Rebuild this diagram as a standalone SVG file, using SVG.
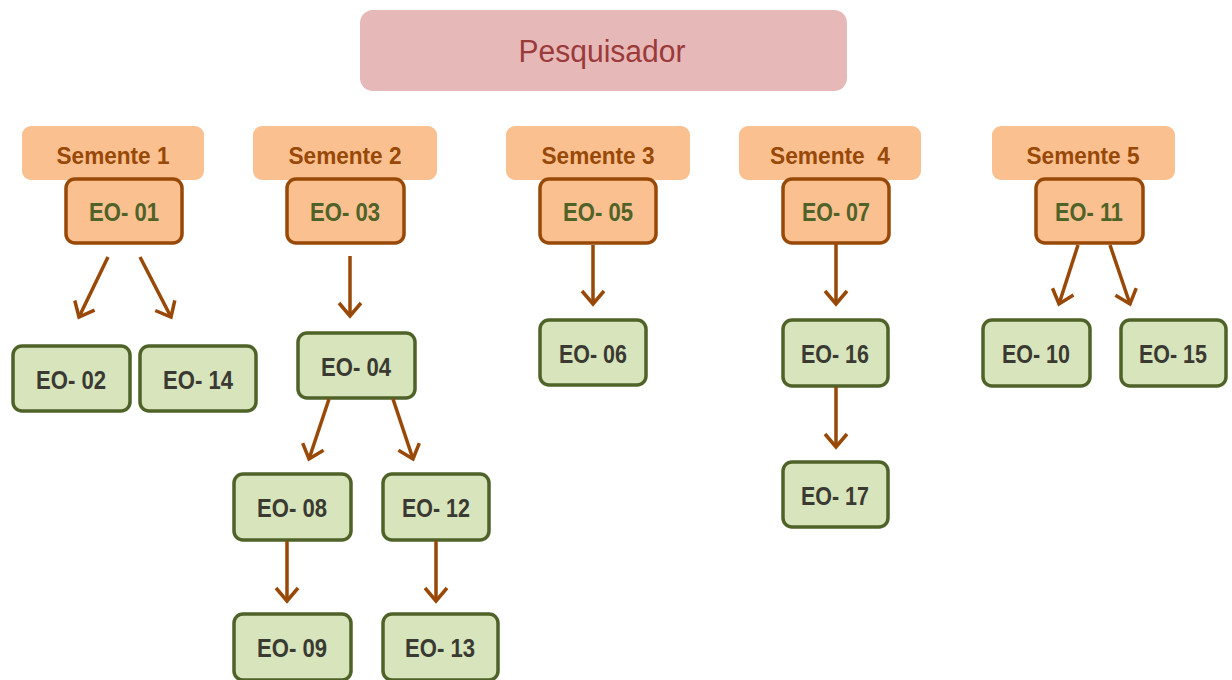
<svg xmlns="http://www.w3.org/2000/svg" width="1232" height="680" viewBox="0 0 1232 680">
  <style>
    .top { fill: #e6b8b7; }
    .top-t { fill: #9b3a3a; font-family: "Liberation Sans", Arial, sans-serif; font-size: 31px; text-anchor: middle; }
    .seed-band { fill: #fac090; }
    .seed-band-t { fill: #984807; font-family: "Liberation Sans", Arial, sans-serif; font-weight: bold; font-size: 23px; text-anchor: middle; white-space: pre; }
    .seed { fill: #fac090; stroke: #984807; stroke-width: 3.5; }
    .seed-t { fill: #4f6228; font-family: "Liberation Sans", Arial, sans-serif; font-weight: bold; font-size: 26px; text-anchor: middle; }
    .node { fill: #d7e4bc; stroke: #4f6228; stroke-width: 3.5; }
    .node-t { fill: #3a3a32; font-family: "Liberation Sans", Arial, sans-serif; font-weight: bold; font-size: 26px; text-anchor: middle; }
    .link { stroke: #984807; stroke-width: 3.5; fill: none; marker-end: url(#arrow); }
  </style>
  <defs>
    <marker id="arrow" markerUnits="userSpaceOnUse" markerWidth="30" markerHeight="30" refX="0" refY="0" viewBox="-15 -15 30 30" orient="auto" overflow="visible">
      <path d="M-13,-11 L0,0 L-13,11" fill="none" stroke="#984807" stroke-width="3.5" stroke-linejoin="miter"/>
    </marker>
  </defs>

  <rect width="1232" height="680" fill="#ffffff"/>

  <g id="pesquisador">
    <rect class="top" x="360" y="10" width="487" height="81" rx="13"/>
    <text class="top-t" x="602" y="62" textLength="167" lengthAdjust="spacingAndGlyphs">Pesquisador</text>
  </g>

  <!-- seed labels -->
  <g id="semente-1"><rect class="seed-band" x="22" y="126" width="182" height="54" rx="9"/><text class="seed-band-t" x="113" y="164" textLength="113" lengthAdjust="spacingAndGlyphs">Semente 1</text></g>
  <g id="semente-2"><rect class="seed-band" x="253" y="126" width="184" height="54" rx="9"/><text class="seed-band-t" x="345" y="164" textLength="113" lengthAdjust="spacingAndGlyphs">Semente 2</text></g>
  <g id="semente-3"><rect class="seed-band" x="506" y="126" width="184" height="54" rx="9"/><text class="seed-band-t" x="598" y="164" textLength="113" lengthAdjust="spacingAndGlyphs">Semente 3</text></g>
  <g id="semente-4"><rect class="seed-band" x="739" y="126" width="182" height="54" rx="9"/><text class="seed-band-t" x="830" y="164" textLength="120" lengthAdjust="spacingAndGlyphs" xml:space="preserve">Semente  4</text></g>
  <g id="semente-5"><rect class="seed-band" x="992" y="126" width="183" height="54" rx="9"/><text class="seed-band-t" x="1083" y="164" textLength="113" lengthAdjust="spacingAndGlyphs">Semente 5</text></g>

  <!-- seed informants -->
  <g id="eo-01"><rect class="seed" x="66" y="179" width="116" height="64" rx="9"/><text class="seed-t" x="124" y="221" textLength="70" lengthAdjust="spacingAndGlyphs">EO- 01</text></g>
  <g id="eo-03"><rect class="seed" x="287" y="179" width="117" height="64" rx="9"/><text class="seed-t" x="345" y="221" textLength="70" lengthAdjust="spacingAndGlyphs">EO- 03</text></g>
  <g id="eo-05"><rect class="seed" x="540" y="179" width="116" height="64" rx="9"/><text class="seed-t" x="598" y="221" textLength="70" lengthAdjust="spacingAndGlyphs">EO- 05</text></g>
  <g id="eo-07"><rect class="seed" x="783" y="179" width="106" height="64" rx="9"/><text class="seed-t" x="836" y="221" textLength="68" lengthAdjust="spacingAndGlyphs">EO- 07</text></g>
  <g id="eo-11"><rect class="seed" x="1036" y="179" width="107" height="64" rx="9"/><text class="seed-t" x="1089" y="221" textLength="68" lengthAdjust="spacingAndGlyphs">EO- 11</text></g>

  <!-- referred informants -->
  <g id="eo-02"><rect class="node" x="13" y="346" width="117" height="65" rx="9"/><text class="node-t" x="71" y="389" textLength="70" lengthAdjust="spacingAndGlyphs">EO- 02</text></g>
  <g id="eo-14"><rect class="node" x="140" y="346" width="116" height="65" rx="9"/><text class="node-t" x="198" y="389" textLength="70" lengthAdjust="spacingAndGlyphs">EO- 14</text></g>
  <g id="eo-04"><rect class="node" x="298" y="333" width="117" height="65" rx="9"/><text class="node-t" x="356" y="376" textLength="70" lengthAdjust="spacingAndGlyphs">EO- 04</text></g>
  <g id="eo-08"><rect class="node" x="234" y="474" width="117" height="66" rx="9"/><text class="node-t" x="292" y="517" textLength="70" lengthAdjust="spacingAndGlyphs">EO- 08</text></g>
  <g id="eo-12"><rect class="node" x="383" y="474" width="106" height="66" rx="9"/><text class="node-t" x="436" y="517" textLength="68" lengthAdjust="spacingAndGlyphs">EO- 12</text></g>
  <g id="eo-09"><rect class="node" x="234" y="614" width="117" height="66" rx="9"/><text class="node-t" x="292" y="657" textLength="70" lengthAdjust="spacingAndGlyphs">EO- 09</text></g>
  <g id="eo-13"><rect class="node" x="383" y="614" width="115" height="66" rx="9"/><text class="node-t" x="440" y="657" textLength="70" lengthAdjust="spacingAndGlyphs">EO- 13</text></g>
  <g id="eo-06"><rect class="node" x="540" y="320" width="106" height="65" rx="9"/><text class="node-t" x="593" y="363" textLength="68" lengthAdjust="spacingAndGlyphs">EO- 06</text></g>
  <g id="eo-16"><rect class="node" x="783" y="320" width="105" height="66" rx="9"/><text class="node-t" x="835" y="363" textLength="68" lengthAdjust="spacingAndGlyphs">EO- 16</text></g>
  <g id="eo-17"><rect class="node" x="783" y="462" width="105" height="65" rx="9"/><text class="node-t" x="835" y="505" textLength="68" lengthAdjust="spacingAndGlyphs">EO- 17</text></g>
  <g id="eo-10"><rect class="node" x="983" y="320" width="107" height="66" rx="9"/><text class="node-t" x="1036" y="363" textLength="68" lengthAdjust="spacingAndGlyphs">EO- 10</text></g>
  <g id="eo-15"><rect class="node" x="1121" y="320" width="105" height="66" rx="9"/><text class="node-t" x="1173" y="363" textLength="68" lengthAdjust="spacingAndGlyphs">EO- 15</text></g>

  <!-- referral arrows -->
  <g id="connectors">
    <line class="link" x1="108" y1="257" x2="79" y2="317"/>
    <line class="link" x1="140" y1="257" x2="171" y2="317"/>
    <line class="link" x1="350" y1="256" x2="350" y2="316"/>
    <line class="link" x1="329" y1="399" x2="309" y2="459"/>
    <line class="link" x1="393" y1="399" x2="413" y2="459"/>
    <line class="link" x1="287" y1="541" x2="287" y2="601"/>
    <line class="link" x1="436" y1="541" x2="436" y2="601"/>
    <line class="link" x1="593" y1="245" x2="593" y2="304"/>
    <line class="link" x1="836" y1="244" x2="836" y2="304"/>
    <line class="link" x1="836" y1="387" x2="836" y2="447"/>
    <line class="link" x1="1078" y1="245" x2="1059" y2="304"/>
    <line class="link" x1="1110" y1="245" x2="1130" y2="304"/>
  </g>
</svg>
